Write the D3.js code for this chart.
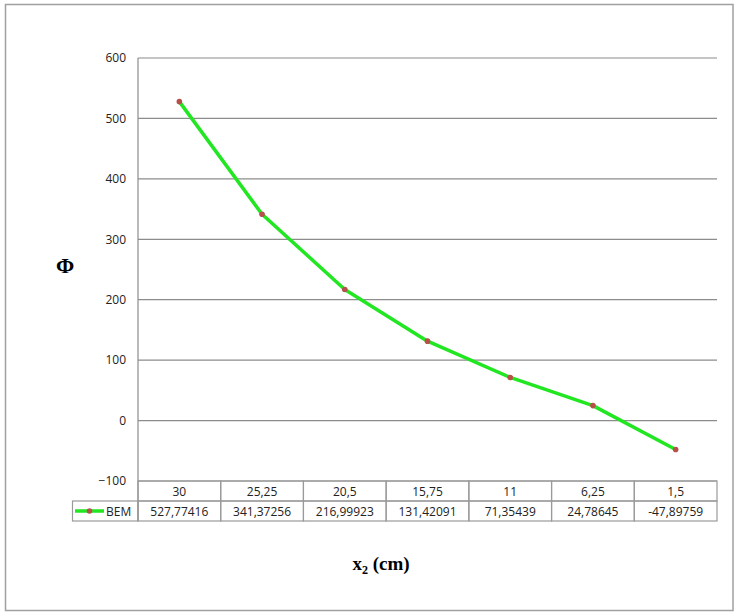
<!DOCTYPE html>
<html><head><meta charset="utf-8">
<script src="https://cdn.jsdelivr.net/npm/d3@7"></script>
<style>body{margin:0;background:#fff}svg{display:block}</style>
</head><body>
<svg id="c" width="738" height="616"></svg>
<script>
const categories = ["30","25,25","20,5","15,75","11","6,25","1,5"];
const values = [527.77416, 341.37256, 216.99923, 131.42091, 71.35439, 24.78645, -47.89759];
const valueLabels = ["527,77416","341,37256","216,99923","131,42091","71,35439","24,78645","-47,89759"];
const yTicks = [-100, 0, 100, 200, 300, 400, 500, 600];
const seriesName = "BEM";

const svg = d3.select("#c");
const L = 138, R = 717, T = 58, B = 481;
const rowH = 20;
const font = "'Open Sans', 'Liberation Sans', sans-serif";

svg.append("rect").attr("x",5.5).attr("y",4.5).attr("width",727.5).attr("height",606)
  .attr("fill","#fff").attr("stroke","#a0a0a0").attr("stroke-width",1.5);

const x = d3.scaleBand().domain(categories).range([L,R]).padding(0);
const y = d3.scaleLinear().domain([-100,600]).range([B,T]);

// gridlines
svg.append("g").selectAll("line").data(yTicks).join("line")
  .attr("x1",L).attr("x2",R).attr("y1",d=>y(d)).attr("y2",d=>y(d))
  .attr("stroke","#8c8c8c").attr("stroke-width",1.2);
// left axis line
svg.append("line").attr("x1",L).attr("x2",L).attr("y1",T).attr("y2",B+2*rowH)
  .attr("stroke","#8c8c8c").attr("stroke-width",1.2);

// y tick labels
const yAxis = d3.axisLeft(y).tickValues(yTicks).tickSize(0).tickPadding(12);
const gy = svg.append("g").attr("transform",`translate(${L},0)`).call(yAxis);
gy.select(".domain").remove();
gy.selectAll("text").attr("font-family",font).attr("font-size",12).attr("fill","#222");

// data table
const tbl = svg.append("g");
const cell = "#9a9a9a";
tbl.selectAll(".c1").data(categories).join("rect")
  .attr("x",d=>x(d)).attr("y",B).attr("width",x.bandwidth()).attr("height",rowH)
  .attr("fill","none").attr("stroke",cell).attr("stroke-width",1.2);
tbl.selectAll(".c2").data(categories).join("rect")
  .attr("x",d=>x(d)).attr("y",B+rowH).attr("width",x.bandwidth()).attr("height",rowH)
  .attr("fill","none").attr("stroke",cell).attr("stroke-width",1.2);
tbl.append("rect").attr("x",72.5).attr("y",B+rowH).attr("width",L-72.5).attr("height",rowH)
  .attr("fill","none").attr("stroke",cell).attr("stroke-width",1.2);
tbl.selectAll(".t1").data(categories).join("text")
  .attr("x",d=>x(d)+x.bandwidth()/2).attr("y",B+rowH/2+4.5).attr("text-anchor","middle")
  .attr("font-family",font).attr("font-size",12).attr("fill","#222").text(d=>d);
tbl.selectAll(".t2").data(valueLabels).join("text")
  .attr("x",(d,i)=>x(categories[i])+x.bandwidth()/2).attr("y",B+rowH*1.5+4.5).attr("text-anchor","middle")
  .attr("font-family",font).attr("font-size",12).attr("fill","#222").text(d=>d);
// legend key
tbl.append("line").attr("x1",75).attr("x2",104).attr("y1",B+rowH*1.5).attr("y2",B+rowH*1.5)
  .attr("stroke","#22e622").attr("stroke-width",3.5);
tbl.append("circle").attr("cx",89.5).attr("cy",B+rowH*1.5).attr("r",2.8).attr("fill","#b5504a");
tbl.append("text").attr("x",106).attr("y",B+rowH*1.5+4.5).attr("font-family",font)
  .attr("font-size",12).attr("fill","#222").text(seriesName);

// series line
const pts = categories.map((c,i)=>[x(c)+x.bandwidth()/2, y(values[i])]);
svg.append("path").attr("d",d3.line()(pts)).attr("fill","none")
  .attr("stroke","#22e622").attr("stroke-width",3.5).attr("stroke-linejoin","round");
svg.append("g").selectAll("circle").data(pts).join("circle")
  .attr("cx",d=>d[0]).attr("cy",d=>d[1]).attr("r",2.8).attr("fill","#b5504a");

// axis titles
svg.append("text").attr("x",65).attr("y",273).attr("text-anchor","middle")
  .attr("font-family","'Liberation Serif','Times New Roman',serif").attr("font-weight","bold")
  .attr("font-size",22).text("Φ");
const xt = svg.append("text").attr("x",381).attr("y",570).attr("text-anchor","middle")
  .attr("font-family","'Liberation Serif','Times New Roman',serif").attr("font-weight","bold")
  .attr("font-size",19);
xt.append("tspan").text("x");
xt.append("tspan").attr("font-size",12).attr("dy",4).text("2");
xt.append("tspan").attr("dy",-4).text(" (cm)");
</script>
</body></html>
